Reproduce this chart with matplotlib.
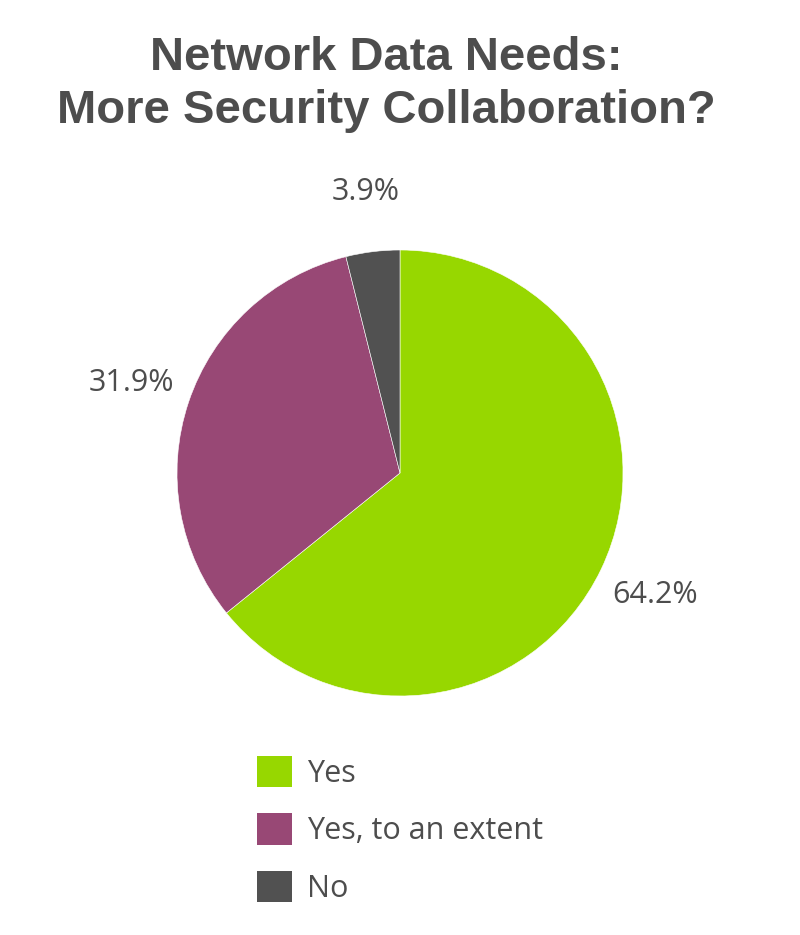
import matplotlib
matplotlib.use("Agg")
import matplotlib.pyplot as plt
from matplotlib.patches import Patch

categories = ["Yes", "Yes, to an extent", "No"]
shares = [64.2, 31.9, 3.9]
colors = ["#97d700", "#984875", "#515151"]
title_lines = ["Network Data Needs:", "More Security Collaboration?"]

TEXT = "#4d4d4d"
W, H = 800, 935

fig = plt.figure(figsize=(W / 100, H / 100), dpi=100)
fig.patch.set_facecolor("white")

# pie: centre (400, 473) px, radius 223 px
cx, cy, r = 400, 473, 223
ax = fig.add_axes([(cx - r) / W, (H - cy - r) / H, 2 * r / W, 2 * r / H])
ax.pie(shares, colors=colors, startangle=90, counterclock=False,
       radius=1, autopct=lambda p: f"{p:.1f}%", pctdistance=1.27,
       wedgeprops=dict(edgecolor="white", linewidth=0.4),
       textprops=dict(color=TEXT, fontsize=22, family="Open Sans"))
ax.set_xlim(-1, 1)
ax.set_ylim(-1, 1)
ax.set_aspect("equal")
ax.axis("off")

# title, two lines
fig.text(386 / W, 1 - 70 / H, title_lines[0], ha="center", va="baseline",
         fontsize=34, fontweight="bold", family="Liberation Sans", color=TEXT)
fig.text(386 / W, 1 - 123 / H, title_lines[1], ha="center", va="baseline",
         fontsize=34, fontweight="bold", family="Liberation Sans", color=TEXT)

handles = [Patch(facecolor=c, edgecolor="none") for c in colors]
leg = fig.legend(handles, categories, loc="upper left",
                 bbox_to_anchor=(257 / W, 1 - 756 / H), frameon=False,
                 prop=dict(family="Open Sans", size=22),
                 handlelength=1.15, handleheight=1.2, handletextpad=0.5,
                 labelspacing=0.8, borderpad=0, borderaxespad=0)
for t in leg.get_texts():
    t.set_color(TEXT)

fig.savefig("out.png", dpi=100, facecolor="white")
